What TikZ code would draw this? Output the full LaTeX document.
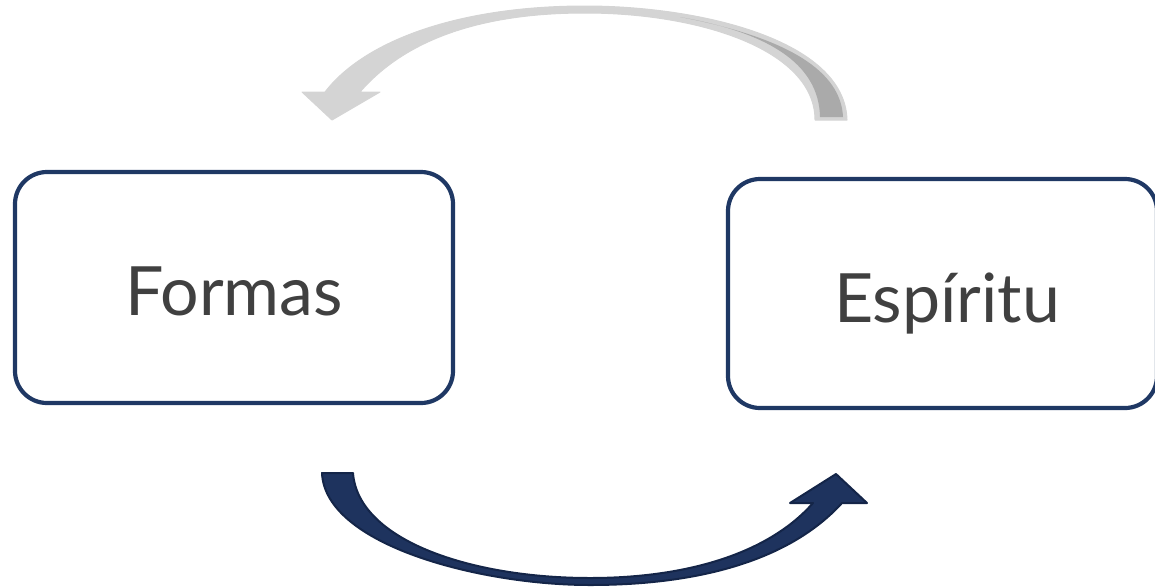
\documentclass[tikz,border=0pt]{standalone}
\usepackage{fontspec}
\setmainfont{Lato}
\definecolor{boxnavy}{RGB}{31,56,100}
\definecolor{labelgray}{RGB}{64,64,64}
\definecolor{arrownavy}{RGB}{30,51,94}
\definecolor{arrowedge}{RGB}{20,37,72}
\definecolor{ghostlight}{RGB}{212,212,212}
\definecolor{ghostdark}{RGB}{170,170,170}

\begin{document}
\begin{tikzpicture}[x=1pt,y=-1pt,
  stagebox/.style={draw=boxnavy, line width=4.2pt, rounded corners=32pt, fill=white, inner sep=0pt},
  stagelabel/.style={text=labelgray, font=\fontsize{68}{74}\selectfont, inner sep=0pt},
]
\useasboundingbox (0,0) rectangle (1155,587);

% the two stages
\node[stagebox, minimum width=438pt, minimum height=231pt] (formas) at (234,287.5) {};
\node[stagebox, minimum width=429pt, minimum height=229pt] (espiritu) at (942.5,293.5) {};
\node[stagelabel, anchor=base] (formasLabel) at (234,315) {Formas};
\node[stagelabel, anchor=base] (espirituLabel) at (947,322) {Espíritu};

% return arrow over the top (grey ribbon)
\filldraw[fill=ghostlight, draw=ghostlight, line width=1pt, line join=round]
 (847,120) .. controls (845,40) and (700,6) .. (585,6)
 .. controls (460,6) and (365,40) .. (325,92)
 -- (302,92) -- (332,120) -- (380,92) -- (360,92)
 .. controls (405,40) and (480,13) .. (585,13)
 .. controls (700,13) and (815,50) .. (815,120) -- cycle;
% its shaded underside near the tail
\fill[ghostdark]
 (820,117) -- (843,117) .. controls (841,72) and (790,38) .. (680,17)
 .. controls (765,32) and (819,62) .. (820,117) -- cycle;

% forward arrow underneath (navy ribbon)
\filldraw[fill=arrownavy, draw=arrowedge, line width=2pt, line join=round]
 (322,473) .. controls (325,545) and (480,585) .. (590,585)
 .. controls (700,585) and (790,560) .. (842,503)
 -- (867,503) -- (836,474) -- (790,503) -- (813,503)
 .. controls (770,552) and (690,578) .. (590,578)
 .. controls (470,578) and (358,540) .. (353,473) -- cycle;
\end{tikzpicture}
\end{document}
